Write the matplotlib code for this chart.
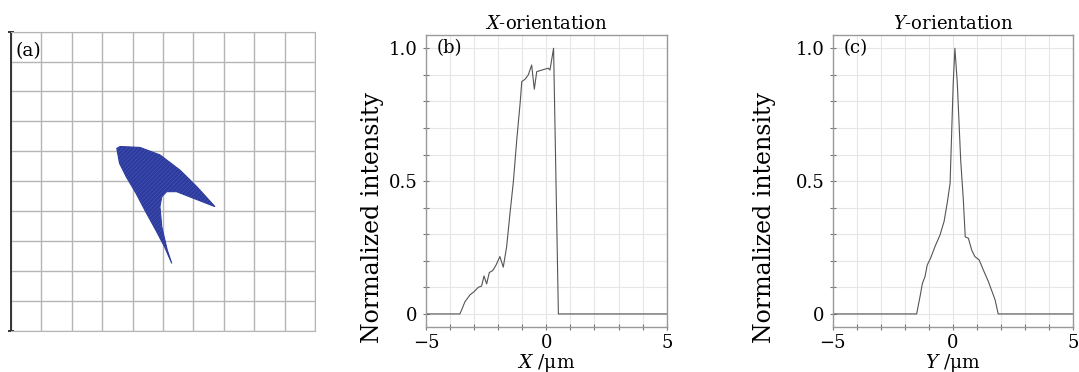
import numpy as np
import matplotlib
matplotlib.use("Agg")
import matplotlib.pyplot as plt
from matplotlib.ticker import MultipleLocator

plt.rcParams['font.family'] = ['DejaVu Serif']
plt.rcParams['mathtext.fontset'] = 'dejavuserif'
plt.rcParams['hatch.linewidth'] = 0.5

# (a) spot outline in grid units (x from left, y from top)
spot_x = [3.48, 3.59, 4.24, 4.90, 5.56, 6.11, 6.71, 6.00, 5.45, 5.12, 4.96, 4.90, 4.96, 5.14, 5.29,
          5.05, 4.76, 4.43, 4.11, 3.79, 3.57, 3.48]
spot_y = [3.90, 3.84, 3.87, 4.12, 4.63, 5.18, 5.85, 5.57, 5.35, 5.35, 5.52, 5.85, 6.52, 7.30, 7.75,
          7.19, 6.63, 6.02, 5.40, 4.85, 4.40, 3.90]

# (b) X-orientation profile
x_b = [-5.0, -3.59, -3.38, -3.17, -3.00, -2.83, -2.69, -2.59, -2.48, -2.37, -2.23, -2.09, -1.93,
       -1.79, -1.65, -1.51, -1.37, -1.23, -1.09, -1.02, -0.89, -0.75, -0.61, -0.50, -0.40, -0.19,
       0.08, 0.15, 0.30, 0.50, 5.0]
i_b = [0.0, 0.0, 0.046, 0.072, 0.084, 0.100, 0.105, 0.143, 0.113, 0.156, 0.163, 0.184, 0.216,
       0.176, 0.253, 0.379, 0.498, 0.655, 0.793, 0.875, 0.883, 0.900, 0.937, 0.846, 0.912, 0.918,
       0.925, 0.918, 1.0, 0.0, 0.0]

# (c) Y-orientation profile
y_c = [-5.0, -1.51, -1.37, -1.27, -1.16, -1.07, -0.93, -0.75, -0.54, -0.37, -0.24, -0.12, -0.055,
       0.01, 0.08, 0.18, 0.32, 0.43, 0.51, 0.64, 0.78, 0.91, 1.09, 1.26, 1.47, 1.65, 1.75, 1.88, 5.0]
i_c = [0.0, 0.0, 0.065, 0.115, 0.141, 0.184, 0.21, 0.253, 0.297, 0.348, 0.417, 0.492, 0.68,
       0.868, 1.0, 0.868, 0.58, 0.43, 0.29, 0.285, 0.24, 0.216, 0.203, 0.166, 0.122, 0.078, 0.053,
       0.0, 0.0]

fig = plt.figure(figsize=(10.79, 3.72), dpi=100)

# ---- (a) ----
ax_a = fig.add_axes([0.0102, 0.111, 0.2817, 0.8038])
ax_a.fill(spot_x, spot_y, fc="#2b3a9c", ec="#2b3a9c", lw=0.8)
ax_a.fill(spot_x, spot_y, fc="none", ec="#4656b4", lw=0, hatch="////////")
ax_a.set_xlim(0, 10)
ax_a.set_ylim(10, 0)
ax_a.xaxis.set_major_locator(MultipleLocator(1))
ax_a.yaxis.set_major_locator(MultipleLocator(1))
ax_a.grid(True, color="#b5b5b5", lw=1.0)
ax_a.set_axisbelow(True)
ax_a.tick_params(axis='x', length=0, labelbottom=False)
ax_a.tick_params(axis='y', length=0, labelleft=False)
# end caps of the left rule
for yy in (0, 10):
    ax_a.plot([-0.08, 0.08], [yy, yy], color="#333333", lw=1.4, clip_on=False)
for side in ['top', 'right', 'bottom']:
    ax_a.spines[side].set_color("#b5b5b5")
ax_a.spines['left'].set_color("#333333")
ax_a.spines['left'].set_linewidth(1.4)
ax_a.text(0.015, 0.965, "(a)", transform=ax_a.transAxes, ha='left', va='top', fontsize=13.5)


def profile(ax, x, y, label, title, tag, ylab_x):
    ax.plot(x, y, color="#555555", lw=0.8)
    ax.set_xlim(-5, 5)
    ax.set_ylim(-0.048, 1.05)
    ax.set_xticks([-5, 0, 5])
    ax.set_xticklabels(["\u22125", "0", "5"])
    ax.set_yticks([0, 0.5, 1.0])
    ax.set_yticklabels(["0", "0.5", "1.0"])
    ax.xaxis.set_minor_locator(MultipleLocator(1))
    ax.yaxis.set_minor_locator(MultipleLocator(0.1))
    ax.grid(True, which='both', color="#e6e6e6", lw=0.8)
    ax.set_axisbelow(True)
    ax.tick_params(which='both', direction='inout', length=4, width=0.8, color="#777777",
                   labelsize=13)
    ax.tick_params(axis='y', pad=4)
    ax.tick_params(axis='x', pad=3)
    for s in ax.spines.values():
        s.set_color("#999999")
        s.set_linewidth(1.0)
    ax.set_ylabel("Normalized intensity", fontsize=17, va='center')
    ax.yaxis.set_label_coords(ylab_x, 0.374)
    ax.set_xlabel(label, fontsize=13.5, labelpad=0)
    ax.set_title(title, fontsize=13, pad=4)
    ax.text(0.045, 0.985, tag, transform=ax.transAxes, ha='left', va='top', fontsize=13)


ax_b = fig.add_axes([0.3948, 0.1218, 0.2231, 0.7841])
profile(ax_b, x_b, i_b, r"$X$ /μm", r"$X$-orientation", "(b)", -0.224)

ax_c = fig.add_axes([0.7717, 0.1218, 0.2230, 0.7841])
profile(ax_c, y_c, i_c, r"$Y$ /μm", r"$Y$-orientation", "(c)", -0.285)

fig.savefig("out.png", dpi=100)
